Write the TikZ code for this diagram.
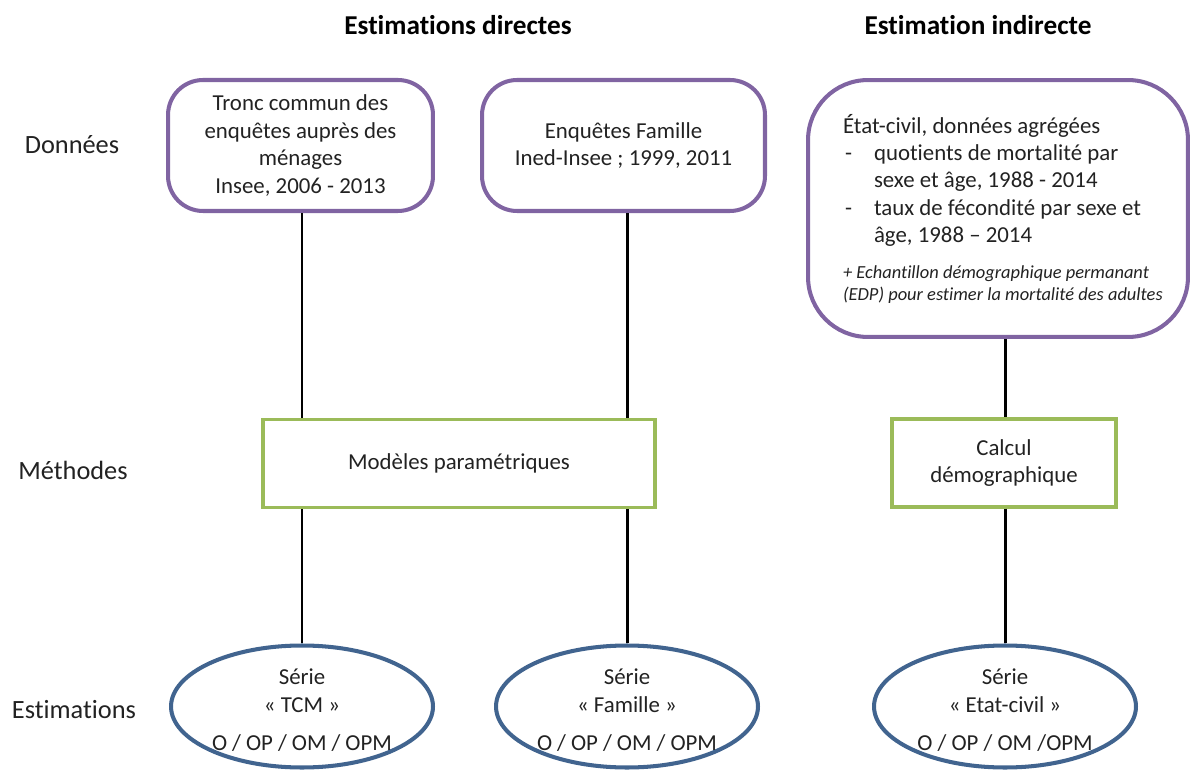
\documentclass[tikz,border=0pt]{standalone}
\usepackage{fontspec}
\setmainfont{Carlito}[Ligatures={TeX,CommonOff}]
\usetikzlibrary{shapes.geometric}
\definecolor{purp}{HTML}{8064A2}
\definecolor{grn}{HTML}{9BBB59}
\definecolor{blu}{HTML}{41648F}
\definecolor{txt}{HTML}{222222}
\begin{document}
\begin{tikzpicture}[x=0.02cm,y=-0.02cm,
  every node/.style={text=txt},
  bodyfont/.style={font=\fontsize{13}{15.6}\selectfont},
  databox/.style={draw=purp, line width=2.3pt, rounded corners=0.7cm, align=center, bodyfont, minimum height=2.62cm},
  methbox/.style={draw=grn, line width=2pt, align=center, bodyfont, minimum height=1.76cm},
  estell/.style={ellipse, draw=blu, line width=2.3pt, inner sep=0pt, minimum width=5.24cm, minimum height=2.44cm, bodyfont},
  rowlab/.style={font=\fontsize{15}{18}\selectfont},
  coltitle/.style={font=\fontsize{15.5}{18}\selectfont\bfseries, text=black},
  link/.style={draw=black, line width=1.7pt}
]
\useasboundingbox (0,0) rectangle (1190,773);

% column titles
\node[coltitle] (t1) at (458,25) {Estimations directes};
\node[coltitle] (t2) at (978,25) {Estimation indirecte};

% row labels
\node[rowlab] (r1) at (72,145) {Données};
\node[rowlab] (r2) at (73,470) {Méthodes};
\node[rowlab] (r3) at (74,710) {Estimations};

% data boxes
\node[databox, minimum width=5.3cm] (d1) at (300.5,145.5)
  {Tronc commun des\\enquêtes auprès des\\ménages\\Insee, 2006 - 2013};
\node[databox, minimum width=5.66cm] (d2) at (623.5,145.5)
  {Enquêtes Famille\\Ined-Insee ; 1999, 2011};
\node[databox, rounded corners=1.2cm, minimum width=7.6cm, minimum height=5.14cm,
      inner xsep=0.2cm, align=none] (d3) at (998,208.5)
  {\hspace*{0.5cm}\parbox[c]{6.7cm}{\raggedright
   État-civil, données agrégées\\
   \makebox[0.62cm][l]{\hspace{0.04cm}-}quotients de mortalité par\\
   \hspace*{0.62cm}sexe et âge, 1988 - 2014\\
   \makebox[0.62cm][l]{\hspace{0.04cm}-}taux de fécondité par sexe et\\
   \hspace*{0.62cm}âge, 1988 – 2014\par\vspace{8.2pt}
   {\fontsize{10.5}{12.2}\selectfont\itshape + Echantillon démographique permanant\\(EDP) pour estimer la mortalité des adultes\par}}};

% method boxes
\node[methbox, minimum width=7.84cm] (m1) at (459,463.5) {Modèles paramétriques};
\node[methbox, minimum width=4.48cm] (m2) at (1004,463) {Calcul\\démographique};

% estimation ellipses
\node[estell] (e1) at (302,706.5)
  {\smash{\raisebox{-5pt}{\parbox[c]{3.6cm}{\centering Série\\«~TCM~»\\[6pt]O / OP / OM / OPM}}}};
\node[estell] (e2) at (627,706.5)
  {\smash{\raisebox{-5pt}{\parbox[c]{3.6cm}{\centering Série\\«~Famille~»\\[6pt]O / OP / OM / OPM}}}};
\node[estell] (e3) at (1005,706.5)
  {\smash{\raisebox{-5pt}{\parbox[c]{3.6cm}{\centering Série\\«~Etat-civil~»\\[6pt]O / OP / OM /OPM}}}};

% connectors
\draw[link] (d1.south -| e1) -- (m1.north -| e1);
\draw[link] (d2.south -| e2) -- (m1.north -| e2);
\draw[link] (d3.south -| e3) -- (m2.north -| e3);
\draw[link] (m1.south -| e1) -- (e1.north);
\draw[link] (m1.south -| e2) -- (e2.north);
\draw[link] (m2.south -| e3) -- (e3.north);
\end{tikzpicture}
\end{document}
